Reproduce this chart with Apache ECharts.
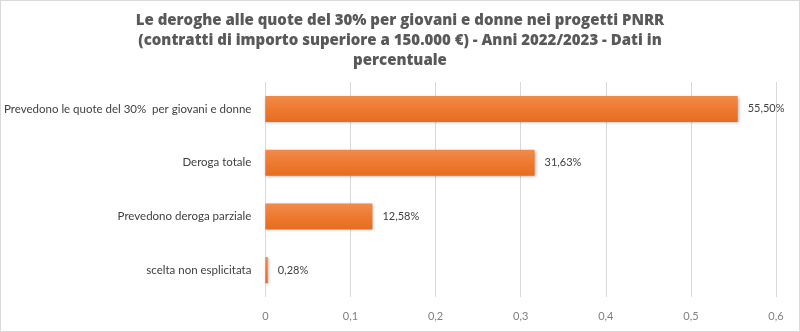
<!DOCTYPE html>
<html><head><meta charset="utf-8">
<script src="https://cdn.jsdelivr.net/npm/echarts@6/dist/echarts.min.js"></script>
<style>html,body{margin:0;padding:0;background:#fff}#c{width:798px;height:330px;border:1px solid #d9d9d9}</style>
</head><body><div id="c"></div>
<script>
const categories = ["scelta non esplicitata", "Prevedono deroga parziale", "Deroga totale", "Prevedono le quote del 30%  per giovani e donne"];
const values = [0.0028, 0.1258, 0.3163, 0.5550];
const valueLabels = ["0,28%", "12,58%", "31,63%", "55,50%"];
const tickLabels = ["0", "0,1", "0,2", "0,3", "0,4", "0,5", "0,6"];
const titleText = "Le deroghe alle quote del 30% per giovani e donne nei progetti PNRR\n(contratti di importo superiore a 150.000 €) - Anni 2022/2023 - Dati in\npercentuale";

const chart = echarts.init(document.getElementById('c'));
chart.setOption({
  animation: false,
  title: {
    text: titleText, left: 'center', top: 5,
    textStyle: {fontFamily: 'Open Sans', fontWeight: 800, fontSize: 15, color: '#595959', lineHeight: 20}
  },
  grid: {left: 263, right: 23, top: 81, bottom: 34, containLabel: false},
  xAxis: {
    type: 'value', min: 0, max: 0.6, interval: 0.1,
    axisLine: {show: false}, axisTick: {show: false},
    splitLine: {lineStyle: {color: '#d9d9d9'}},
    axisLabel: {color: '#7f7f7f', fontFamily: 'Lato', fontSize: 11, margin: 14,
      formatter: (v, i) => tickLabels[Math.round(v * 10)]}
  },
  yAxis: {
    type: 'category', data: categories,
    axisLine: {show: false}, axisTick: {show: false},
    axisLabel: {color: '#404040', fontFamily: 'Lato', fontSize: 11.5, margin: 14}
  },
  series: [{
    type: 'bar', data: values, barWidth: 26,
    itemStyle: {
      color: new echarts.graphic.LinearGradient(0, 0, 0, 1, [
        {offset: 0, color: '#f18b4a'}, {offset: 0.5, color: '#ee7a30'}, {offset: 1, color: '#e56d22'}]),
      shadowColor: 'rgba(0,0,0,0.3)', shadowBlur: 3, shadowOffsetX: 1, shadowOffsetY: 1
    },
    label: {show: true, position: 'right', distance: 10, color: '#404040', fontFamily: 'Lato', fontSize: 11,
      formatter: p => valueLabels[p.dataIndex]}
  }]
});
</script></body></html>
